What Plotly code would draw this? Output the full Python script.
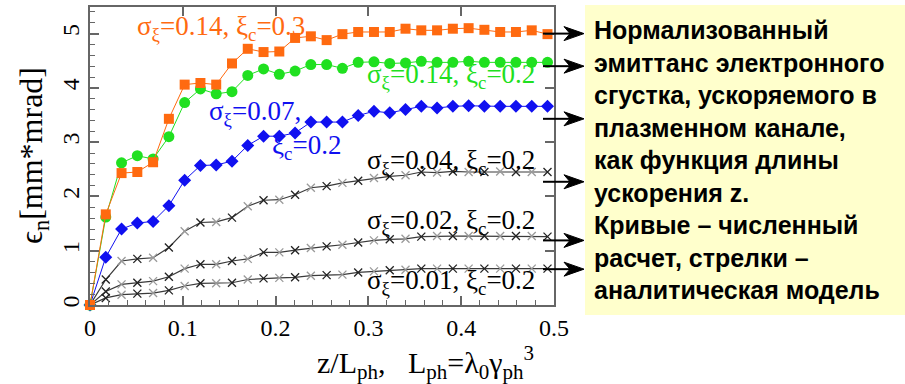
import plotly.graph_objects as go

# Acceleration length grid (z / L_ph)
z = [round(0.017 * k, 3) for k in range(30)]

# Normalized emittance, mm*mrad, for each bunch setting
emit_s014_c03 = [0, 1.67, 2.43, 2.45, 2.63, 3.43, 4.06, 4.09, 4.06, 4.45,
                 4.72, 4.66, 4.67, 4.92, 4.95, 4.88, 4.99, 5.03, 5.03, 5.03,
                 5.09, 5.06, 5.06, 5.09, 5.10, 5.07, 5.03, 5.03, 5.06, 4.99]
emit_s014_c02 = [0, 1.62, 2.62, 2.75, 2.69, 3.10, 3.73, 3.98, 3.89, 3.93,
                 4.23, 4.35, 4.25, 4.31, 4.43, 4.43, 4.36, 4.47, 4.48, 4.45,
                 4.46, 4.49, 4.47, 4.47, 4.49, 4.47, 4.47, 4.47, 4.47, 4.47]
emit_s007_c02 = [0, 0.88, 1.40, 1.51, 1.54, 1.83, 2.30, 2.57, 2.58, 2.65,
                 2.94, 3.11, 3.11, 3.17, 3.37, 3.37, 3.37, 3.49, 3.57, 3.54,
                 3.60, 3.66, 3.63, 3.66, 3.67, 3.66, 3.66, 3.66, 3.66, 3.66]
emit_s004_c02 = [0, 0.47, 0.81, 0.85, 0.87, 1.06, 1.36, 1.52, 1.53, 1.61,
                 1.82, 1.93, 1.94, 2.03, 2.16, 2.19, 2.25, 2.29, 2.34, 2.37,
                 2.39, 2.45, 2.44, 2.46, 2.45, 2.45, 2.46, 2.45, 2.45, 2.45]
emit_s002_c02 = [0, 0.25, 0.38, 0.41, 0.44, 0.52, 0.67, 0.75, 0.75, 0.81,
                 0.85, 0.97, 0.97, 1.01, 1.05, 1.08, 1.11, 1.15, 1.19, 1.21,
                 1.22, 1.26, 1.27, 1.27, 1.27, 1.27, 1.27, 1.27, 1.27, 1.26]
emit_s001_c02 = [0, 0.13, 0.19, 0.21, 0.22, 0.27, 0.35, 0.40, 0.40, 0.41,
                 0.47, 0.49, 0.50, 0.51, 0.54, 0.55, 0.56, 0.60, 0.62, 0.64,
                 0.65, 0.67, 0.67, 0.67, 0.67, 0.67, 0.67, 0.67, 0.67, 0.67]

# Analytical-model asymptotes (arrows at the right edge)
model_levels = [5.00, 4.40, 3.43, 2.27, 1.19, 0.66]

# Curve labels: text, colour, position (data units)
label_texts = [
    "σ<sub>ξ</sub>=0.14, ξ<sub>c</sub>=0.3",
    "σ<sub>ξ</sub>=0.14, ξ<sub>c</sub>=0.2",
    "σ<sub>ξ</sub>=0.07,",
    "ξ<sub>c</sub>=0.2",
    "σ<sub>ξ</sub>=0.04, ξ<sub>c</sub>=0.2",
    "σ<sub>ξ</sub>=0.02, ξ<sub>c</sub>=0.2",
    "σ<sub>ξ</sub>=0.01, ξ<sub>c</sub>=0.2",
]
label_x = [0.141, 0.389, 0.178, 0.233, 0.389, 0.389, 0.389]
label_y = [5.11, 4.21, 3.54, 2.92, 2.64, 1.52, 0.43]

ORANGE = "#FF6A10"
GREEN = "#20E020"
BLUE = "#1010F0"
label_colors = [ORANGE, GREEN, BLUE, BLUE, "black", "black", "black"]

note_lines = [
    "Нормализованный",
    "эмиттанс электронного",
    "сгустка, ускоряемого в",
    "плазменном канале,",
    "как функция длины",
    "ускорения z.",
    "Кривые – численный",
    "расчет, стрелки –",
    "аналитическая модель",
]

SERIF = "Liberation Serif"
W, H = 905, 384
ML, MR, MT, MB = 90, 351, 7, 79
PW = W - ML - MR
PH = H - MT - MB

fig = go.Figure()

# grey curves: alternating dark / light cross markers
alt = ["#222222" if k % 2 else "#9a9a9a" for k in range(len(z))]
for ys in (emit_s001_c02, emit_s002_c02, emit_s004_c02):
    fig.add_trace(go.Scatter(
        x=z, y=ys, mode="lines+markers",
        line=dict(color="#3a3a3a", width=1.2),
        marker=dict(symbol="x-thin", size=8, color=alt,
                    line=dict(color=alt, width=1.3)),
        showlegend=False, cliponaxis=False))

fig.add_trace(go.Scatter(
    x=z, y=emit_s007_c02, mode="lines+markers",
    line=dict(color=BLUE, width=1),
    marker=dict(symbol="diamond", size=10, color=BLUE),
    showlegend=False, cliponaxis=False))
fig.add_trace(go.Scatter(
    x=z, y=emit_s014_c02, mode="lines+markers",
    line=dict(color=GREEN, width=1),
    marker=dict(symbol="circle", size=11, color=GREEN),
    showlegend=False, cliponaxis=False))
fig.add_trace(go.Scatter(
    x=z, y=emit_s014_c03, mode="lines+markers",
    line=dict(color=ORANGE, width=1),
    marker=dict(symbol="square", size=10, color=ORANGE),
    showlegend=False, cliponaxis=False))

# helper trace for the mirrored frame axes (top / right)
fig.add_trace(go.Scatter(x=[None], y=[None], xaxis="x2", yaxis="y2",
                         showlegend=False, hoverinfo="skip"))

AX = "#666666"
tickfont = dict(family=SERIF, size=24, color="black")
fig.update_layout(
    width=W, height=H,
    margin=dict(l=ML, r=MR, t=MT, b=MB),
    paper_bgcolor="white", plot_bgcolor="white",
    xaxis=dict(range=[0, 0.5], dtick=0.1, tick0=0, ticks="inside",
               ticklen=9, tickwidth=1.5, tickcolor=AX,
               showline=True, linecolor=AX, linewidth=1.8,
               showgrid=False, zeroline=False, tickfont=tickfont,
               tickformat="~g",
               minor=dict(dtick=0.02, ticks="inside", ticklen=5,
                          tickwidth=1.2, tickcolor=AX, showgrid=False)),
    yaxis=dict(range=[0, 5.49], dtick=1, tick0=0, ticks="inside",
               ticklen=9, tickwidth=1.5, tickcolor=AX,
               showline=True, linecolor=AX, linewidth=1.8,
               showgrid=False, zeroline=False, tickfont=tickfont,
               tickangle=-90,
               minor=dict(dtick=0.2, ticks="inside", ticklen=5,
                          tickwidth=1.2, tickcolor=AX, showgrid=False)),
    xaxis2=dict(overlaying="x", side="top", matches="x", range=[0, 0.5],
                dtick=0.1, ticks="inside", ticklen=9, tickwidth=1.5,
                tickcolor=AX, showline=True, linecolor=AX, linewidth=1.8,
                showticklabels=False, showgrid=False, zeroline=False),
    yaxis2=dict(overlaying="y", side="right", matches="y", range=[0, 5.49],
                dtick=1, ticks="inside", ticklen=9, tickwidth=1.5,
                tickcolor=AX, showline=True, linecolor=AX, linewidth=1.8,
                showticklabels=False, showgrid=False, zeroline=False),
)

# yellow note panel to the right of the plot
def px_x(p):
    return (p - ML) / PW

def px_y(p):
    return (H - MB - p) / PH

fig.add_shape(type="rect", xref="paper", yref="paper",
              x0=px_x(585), x1=px_x(905), y0=px_y(315), y1=px_y(5),
              fillcolor="#FFFFCC", line=dict(width=0), layer="below")

fig.add_annotation(
    xref="paper", yref="paper", x=px_x(592), y=px_y(160),
    xanchor="left", yanchor="middle", align="left", showarrow=False,
    text="<br>".join(note_lines),
    font=dict(family="Liberation Sans", size=25, color="black", weight="bold"))

# analytical-model arrows
tail, tip = px_x(543), px_x(584)
head_len = 20 / PW
notch = 14 / PW
half_w = 7 / PH * 5.49
for lvl in model_levels:
    fig.add_shape(type="line", xref="paper", yref="y",
                  x0=tail, x1=tip - notch, y0=lvl, y1=lvl,
                  line=dict(color="black", width=2))
    fig.add_shape(
        type="path", xref="paper", yref="y",
        path=(f"M {tip},{lvl} L {tip - head_len},{lvl + half_w} "
              f"L {tip - notch},{lvl} L {tip - head_len},{lvl - half_w} Z"),
        fillcolor="black", line=dict(color="black", width=1))

# curve labels
for t, xx, yy, c in zip(label_texts, label_x, label_y, label_colors):
    fig.add_annotation(x=xx, y=yy, xref="x", yref="y", text=t,
                       showarrow=False, xanchor="center", yanchor="middle",
                       font=dict(family=SERIF, size=27, color=c))

# axis titles
fig.add_annotation(
    xref="paper", yref="paper", x=px_x(425), y=px_y(362),
    xanchor="center", yanchor="middle", showarrow=False,
    text=("z/L<sub>ph</sub>,\u00a0\u00a0\u00a0L<sub>ph</sub>=λ<sub>0</sub>"
          "γ<sub>ph</sub><sup>3</sup>"),
    font=dict(family=SERIF, size=30, color="black"))
fig.add_annotation(
    xref="paper", yref="paper", x=px_x(33), y=px_y(156),
    xanchor="center", yanchor="middle", showarrow=False, textangle=-90,
    text="ϵ<sub>n</sub>[mm*mrad]",
    font=dict(family=SERIF, size=32, color="black"))

fig.write_html("out.html")
